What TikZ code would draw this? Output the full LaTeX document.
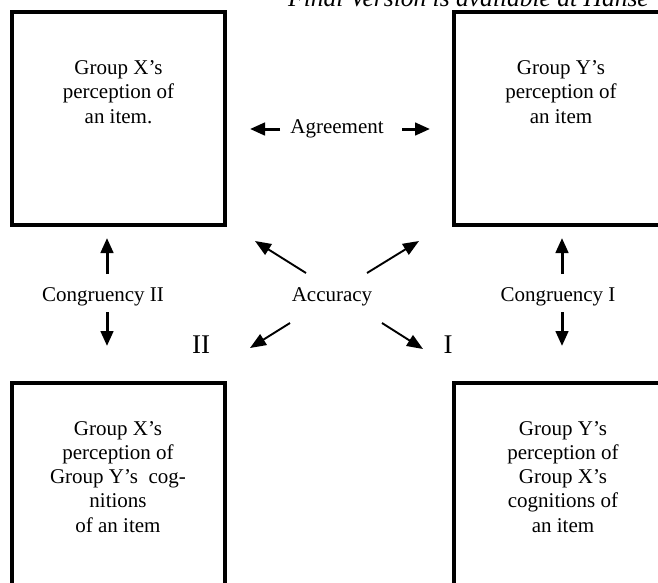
\documentclass[tikz,border=0pt]{standalone}
\usepackage{fontspec}
\setmainfont{Liberation Serif}
\usetikzlibrary{arrows.meta}
\begin{document}
\begin{tikzpicture}[x=1pt,y=-1pt,
  boxshape/.style={draw=black,line width=3.4pt,minimum width=213pt,minimum height=213pt,inner sep=0pt},
  boxtext/.style={align=center,inner sep=0pt,anchor=base,font=\fontsize{21}{24.2}\selectfont},
  lbl/.style={inner sep=0pt,font=\fontsize{21}{24}\selectfont},
  roman/.style={inner sep=0pt,font=\fontsize{27}{30}\selectfont},
  bigarr/.style={line width=3pt,-{Triangle[length=15pt,width=12.5pt]}},
  diagarr/.style={line width=1.9pt,-{Triangle[length=16pt,width=12.5pt]}}]
\useasboundingbox (0,0) rectangle (658,582);
\clip (0,0) rectangle (658,582);
% header (cut off at top, as in the source)
\node[anchor=base west,inner sep=0pt,font=\fontsize{25.5}{28}\selectfont\itshape] (hdr) at (288,6) {Final Version is available at Hanse};
% boxes
\node[boxshape] (bxa) at (118.5,118.5) {};
\node[boxshape] (bya) at (560.5,118.5) {};
\node[boxshape] (bxb) at (118.5,489.5) {};
\node[boxshape] (byb) at (560.5,489.5) {};
% box texts (base anchor = baseline of last line)
\node[boxtext] (txa) at (118.5,123) {Group X’s\\perception of\\an item.};
\node[boxtext] (tya) at (561,123) {Group Y’s\\perception of\\an item};
\node[boxtext] (txb) at (118,532) {Group X’s\\perception of\\Group Y’s\ \ cog-\\nitions\\of an item};
\node[boxtext] (tyb) at (563,532) {Group Y’s\\perception of\\Group X’s\\cognitions of\\an item};
% labels
\node[lbl] (agr) at (337,129) {Agreement};
\node[lbl] (acc) at (332,297) {Accuracy};
\node[lbl] (cg2) at (103,297) {Congruency II};
\node[lbl] (cg1) at (558,297) {Congruency I};
\node[roman] (r2) at (201,345) {II};
\node[roman] (r1) at (448,345) {I};
% arrow coordinates
\coordinate (agl0) at (280,129); \coordinate (agl1) at (250,129);
\coordinate (agr0) at (402,129); \coordinate (agr1) at (430,129);
\coordinate (c2u0) at (107,274); \coordinate (c2u1) at (107,238);
\coordinate (c2d0) at (107,312); \coordinate (c2d1) at (107,346);
\coordinate (c1u0) at (562,274); \coordinate (c1u1) at (562,238);
\coordinate (c1d0) at (562,312); \coordinate (c1d1) at (562,346);
\coordinate (dtl0) at (306,273); \coordinate (dtl1) at (255,241);
\coordinate (dtr0) at (367,273); \coordinate (dtr1) at (419,241);
\coordinate (dbl0) at (290,323); \coordinate (dbl1) at (250,348);
\coordinate (dbr0) at (382,323); \coordinate (dbr1) at (423,349);
% arrows
\draw[bigarr] (agl0) -- (agl1);
\draw[bigarr] (agr0) -- (agr1);
\draw[bigarr] (c2u0) -- (c2u1);
\draw[bigarr] (c2d0) -- (c2d1);
\draw[bigarr] (c1u0) -- (c1u1);
\draw[bigarr] (c1d0) -- (c1d1);
\draw[diagarr] (dtl0) -- (dtl1);
\draw[diagarr] (dtr0) -- (dtr1);
\draw[diagarr] (dbl0) -- (dbl1);
\draw[diagarr] (dbr0) -- (dbr1);
\end{tikzpicture}
\end{document}
